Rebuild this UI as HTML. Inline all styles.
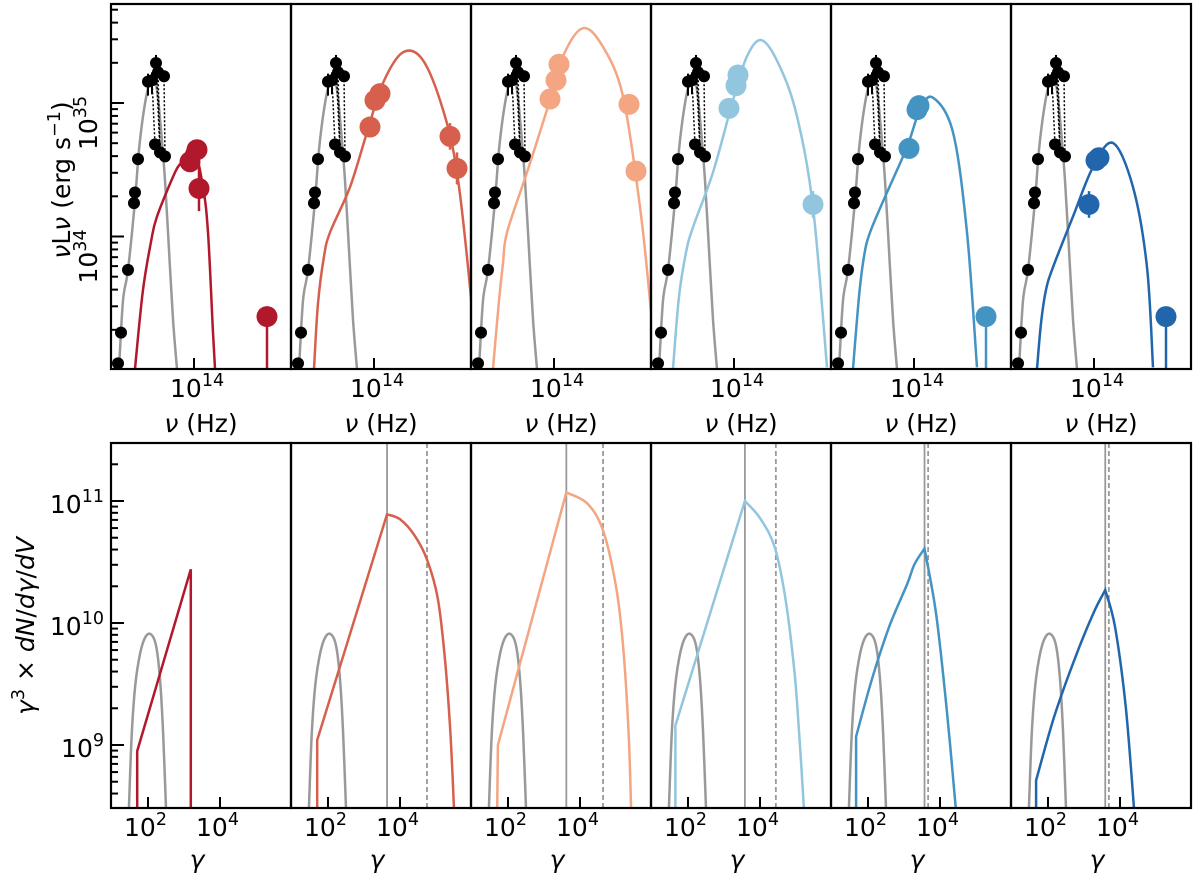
<!DOCTYPE html>
<html><head><meta charset="utf-8">
<style>
html,body{margin:0;padding:0;background:#fff;}
svg{display:block;font-family:"DejaVu Sans","Liberation Sans",sans-serif;}
</style></head>
<body>
<svg id="chart" width="1200" height="880" viewBox="0 0 1200 880" xmlns="http://www.w3.org/2000/svg">
<defs id="defs"></defs>
<g id="root"></g>
</svg>
<script>
// ---------- data ----------
const panelColors = ["#b2182b","#d6604d","#f4a582","#92c5de","#4393c3","#2166ac"];
const obsLogNu = [13.24,13.27,13.34,13.40,13.41,13.44,13.54,13.58,13.62,13.64,13.70,13.61,13.66,13.71];
const obsLogL  = [33.05,33.28,33.75,34.25,34.33,34.58,35.16,35.17,35.30,35.23,35.20,34.69,34.63,34.60];
const obsDotPairs = [[7,11],[9,12],[10,13],[8,12]];
const greySedNu = [13.25,13.29,13.34,13.41,13.45,13.50,13.55,13.59,13.63,13.67,13.71,13.75,13.79,13.83];
const greySedL  = [33.01,33.52,33.75,34.27,34.65,34.95,35.14,35.17,35.10,34.80,34.42,33.90,33.38,33.01];
const sedNu = [
 [13.41,13.49,13.57,13.63,13.81,13.89,13.99,14.09,14.14,14.19,14.21],
 [13.40,13.44,13.50,13.56,13.76,13.93,14.09,14.29,14.49,14.69,14.83,14.96,15.02],
 [13.39,13.45,13.49,13.53,13.73,13.93,14.09,14.29,14.49,14.69,14.86,14.96,15.02],
 [13.39,13.45,13.52,13.59,13.79,13.99,14.13,14.28,14.46,14.63,14.79,14.93],
 [13.39,13.45,13.50,13.56,13.73,13.93,14.06,14.19,14.39,14.53,14.63],
 [13.43,13.47,13.52,13.59,13.79,13.99,14.19,14.39,14.53,14.59]
];
const sedL = [
 [33.01,33.60,33.96,34.15,34.48,34.57,34.69,34.37,34.03,33.28,33.01],
 [33.01,33.50,33.85,34.03,34.37,34.78,35.15,35.38,35.32,34.95,34.48,33.62,33.0],
 [33.01,33.52,33.80,34.03,34.48,34.95,35.35,35.56,35.42,35.05,34.22,33.52,33.0],
 [33.01,33.55,33.88,34.07,34.48,35.02,35.35,35.47,35.27,34.90,34.22,33.02],
 [33.01,33.55,33.85,34.03,34.33,34.67,34.95,35.04,34.78,34.03,33.02],
 [33.01,33.35,33.60,33.77,34.15,34.52,34.70,34.37,33.77,33.02]
];
const ptNu = [
 [13.96,14.03,14.05],[13.96,14.01,14.06,14.76,14.83],[13.96,14.02,14.05,14.75,14.82],
 [13.95,14.02,14.04,14.79],[13.95,14.03,14.05],[13.95,14.02,14.05]
];
const ptL = [
 [34.56,34.65,34.36],[34.82,35.02,35.07,34.75,34.51],[35.03,35.17,35.29,34.99,34.49],
 [34.96,35.13,35.21,34.24],[34.66,34.95,34.98],[34.24,34.57,34.59]
];
const ptErr = [
 [0,0,0.17],[0,0,0,0.1,0.12],[0,0,0,0,0.06],[0,0,0,0.1],[0,0,0],[0.1,0,0]
];
const limNu = [14.73,null,null,null,14.72,14.72];
const limL  = [33.40,null,null,null,33.40,33.40];
const greyElG = [1.47,1.55,1.65,1.78,1.92,2.07,2.22,2.33,2.42,2.50];
const greyElV = [8.48,9.10,9.50,9.75,9.88,9.91,9.82,9.55,9.10,8.48];
const elG = [
 [1.70,1.70,3.19,3.19],
 [1.70,1.70,3.64,4.00,4.40,4.75,5.05,5.25,5.40,5.50],
 [1.70,1.72,3.62,4.20,4.64,5.00,5.20,5.35,5.42],
 [1.65,1.65,3.58,4.00,4.41,4.71,4.96,5.10,5.22],
 [1.67,1.67,2.10,2.59,3.09,3.29,3.57,3.89,4.18,4.44],
 [1.67,1.67,2.17,2.76,3.26,3.59,3.86,4.16,4.39]
];
const elV = [
 [8.48,8.95,10.44,8.48],
 [8.48,9.04,10.89,10.85,10.72,10.52,10.20,9.70,9.10,8.48],
 [8.48,9.00,11.07,10.98,10.76,10.30,9.80,9.10,8.48],
 [8.48,9.16,11.00,10.86,10.62,10.19,9.59,9.04,8.48],
 [8.48,9.07,9.53,9.97,10.32,10.48,10.61,10.08,9.31,8.48],
 [8.48,8.71,9.23,9.72,10.08,10.27,9.97,9.31,8.48]
];
const elCorners = [[0,1,2,3],[0,1,2],[0,1,2],[0,1,2],[0,1,6],[0,1,5]];
const gammaPeak = [null,3.64,3.62,3.58,3.57,3.59];
const gammaDash = [null,4.75,4.64,4.44,3.67,3.69];
const topYTicks = [34,35];
const botYTicks = [9,10,11];
const botXTicks = [2,4];

// ---------- geometry ----------
const NS="http://www.w3.org/2000/svg";
const root=document.getElementById('root');
const defs=document.getElementById('defs');
const PL=111, PW=180, TT=4, TB=369, BT=443, BB=808;
function xTop(k,v){return PL+PW*k+(v-13.17)*100;}
function yTop(v){return 103+(35-v)*133.5;}
function xBot(k,v){return PL+PW*k+(v-0.972)*36;}
function yBot(v){return 501+(11-v)*122;}
function mk(tag,attrs,parent){const e=document.createElementNS(NS,tag);for(const a in attrs)e.setAttribute(a,attrs[a]);(parent||root).appendChild(e);return e;}
function smoothSeg(P){
  let d='';
  for(let i=0;i<P.length-1;i++){
    const p0=P[i-1]||P[i], p1=P[i], p2=P[i+1], p3=P[i+2]||P[i+1];
    const c1=[p1[0]+(p2[0]-p0[0])/6,p1[1]+(p2[1]-p0[1])/6];
    const c2=[p2[0]-(p3[0]-p1[0])/6,p2[1]-(p3[1]-p1[1])/6];
    d+=' C'+c1[0].toFixed(1)+','+c1[1].toFixed(1)+' '+c2[0].toFixed(1)+','+c2[1].toFixed(1)+' '+p2[0].toFixed(1)+','+p2[1].toFixed(1);
  }
  return d;
}
function smoothD(xs,ys,fx,fy,corners){
  const P=xs.map((v,i)=>[fx(v),fy(ys[i])]);
  const cs=new Set(corners||[]); cs.add(0); cs.add(P.length-1);
  const idx=[...cs].sort((a,b)=>a-b);
  let d='M'+P[0][0].toFixed(1)+','+P[0][1].toFixed(1);
  for(let j=0;j<idx.length-1;j++){d+=smoothSeg(P.slice(idx[j],idx[j+1]+1));}
  return d;
}

for(let k=0;k<6;k++){
  const col=panelColors[k];
  const left=PL+PW*k;
  const ct=mk('clipPath',{id:'ct'+k},defs); mk('rect',{x:left,y:TT,width:PW,height:TB-TT},ct);
  const cb=mk('clipPath',{id:'cb'+k},defs); mk('rect',{x:left,y:BT,width:PW,height:BB-BT},cb);

  const gt=mk('g',{'clip-path':'url(#ct'+k+')'});
  
  
  const fx=v=>xTop(k,v);
  const gl=mk('path',{d:smoothD(greySedNu,greySedL,fx,yTop),fill:'none',stroke:'#999',"stroke-width":2.5},gt);
  
  
  obsDotPairs.forEach(p=>{
    const dl=mk('line',{x1:fx(obsLogNu[p[0]]),y1:yTop(obsLogL[p[0]]),x2:fx(obsLogNu[p[1]]),y2:yTop(obsLogL[p[1]]),stroke:'#000',"stroke-width":1.5,"stroke-dasharray":'2,2'},gt);
    
    
  });
  obsLogNu.forEach((v,i)=>{
    const c=mk('circle',{cx:fx(v),cy:yTop(obsLogL[i]),r:6,fill:'#000'},gt);
    
    
    if(i>=6&&i<=8){mk('line',{x1:fx(v),y1:yTop(obsLogL[i])-8,x2:fx(v),y2:yTop(obsLogL[i])+14,stroke:'#000',"stroke-width":2},gt);}
  });
  const mp=mk('path',{d:smoothD(sedNu[k],sedL[k],fx,yTop),fill:'none',stroke:col,"stroke-width":2.5},gt);
  
  
  ptNu[k].forEach((v,i)=>{
    if(ptErr[k][i]>0){mk('line',{x1:fx(v),y1:yTop(ptL[k][i]+ptErr[k][i]),x2:fx(v),y2:yTop(ptL[k][i]-ptErr[k][i]),stroke:col,"stroke-width":2.5},gt);}
    const c=mk('circle',{cx:fx(v),cy:yTop(ptL[k][i]),r:10.5,fill:col},gt);
    
    
  });
  if(limNu[k]!==null){
    mk('line',{x1:fx(limNu[k]),y1:yTop(limL[k]),x2:fx(limNu[k]),y2:TB,stroke:col,"stroke-width":2.5},gt);
    const c=mk('circle',{cx:fx(limNu[k]),cy:yTop(limL[k]),r:10.5,fill:col},gt);
    
    
  }
  const ft=mk('rect',{x:left,y:TT,width:PW,height:TB-TT,fill:'none',stroke:'#000',"stroke-width":2.2});
  
  
  mk('line',{x1:fx(14),y1:TB,x2:fx(14),y2:TB-11,stroke:'#000',"stroke-width":2});
  const xl=mk('text',{x:fx(14)-24,y:397,"font-size":25});
  xl.innerHTML='10<tspan dy="-11" font-size="17.5">14</tspan>';
  
  
  const xt=mk('text',{x:left+PW/2,y:432,"font-size":25,"text-anchor":'middle'});
  xt.innerHTML='<tspan font-style="italic">ν</tspan> (Hz)';
  
  

  const gb=mk('g',{'clip-path':'url(#cb'+k+')'});
  
  
  const bx=v=>xBot(k,v);
  if(gammaPeak[k]!==null){
    const l1=mk('line',{x1:bx(gammaPeak[k]),y1:BT,x2:bx(gammaPeak[k]),y2:BB,stroke:'#999',"stroke-width":1.8},gb);
    
    
    const l2=mk('line',{x1:bx(gammaDash[k]),y1:BT,x2:bx(gammaDash[k]),y2:BB,stroke:'#999',"stroke-width":1.8,"stroke-dasharray":'5,3'},gb);
    
    
  }
  const ge=mk('path',{d:smoothD(greyElG,greyElV,bx,yBot),fill:'none',stroke:'#999',"stroke-width":2.5},gb);
  
  
  const ep=mk('path',{d:smoothD(elG[k],elV[k],bx,yBot,elCorners[k]),fill:'none',stroke:col,"stroke-width":2.5},gb);
  
  
  const fb=mk('rect',{x:left,y:BT,width:PW,height:BB-BT,fill:'none',stroke:'#000',"stroke-width":2.2});
  
  
  botXTicks.forEach(t=>{
    mk('line',{x1:bx(t),y1:BB,x2:bx(t),y2:BB-11,stroke:'#000',"stroke-width":2});
    const tl=mk('text',{x:bx(t)-24,y:836,"font-size":25});
    tl.innerHTML='10<tspan dy="-11" font-size="17.5">'+t+'</tspan>';
    
    
  });
  const gtl=mk('text',{x:left+PW/2-4,y:868,"font-size":25,"text-anchor":'middle',"font-style":'italic'});
  gtl.textContent='γ';
  
  
}

for(let d=33;d<=35;d++){
  for(let m=1;m<=9;m++){
    const v=d+Math.log10(m); const y=yTop(v);
    if(y<TT||y>TB)continue;
    mk('line',{x1:PL,y1:y,x2:PL+(m===1?13:7),y2:y,stroke:'#000',"stroke-width":2});
  }
}
topYTicks.forEach(t=>{
  const tx=mk('text',{transform:'translate(97,'+(yTop(t)+47)+') rotate(-90)',"font-size":25});
  tx.innerHTML='10<tspan dy="-11" font-size="17.5">'+t+'</tspan>';
  
  
});
const yt1=mk('text',{transform:'translate(70,180) rotate(-90)',"font-size":25,"text-anchor":'middle'});
yt1.innerHTML='<tspan font-style="italic">ν</tspan>L<tspan font-style="italic">ν</tspan> (erg s<tspan dy="-10" font-size="17.5">−1</tspan><tspan dy="10">)</tspan>';



for(let d=8;d<=11;d++){
  for(let m=1;m<=9;m++){
    const v=d+Math.log10(m); const y=yBot(v);
    if(y<BT||y>BB)continue;
    mk('line',{x1:PL,y1:y,x2:PL+(m===1?13:7),y2:y,stroke:'#000',"stroke-width":2});
  }
}
botYTicks.forEach(t=>{
  const tx=mk('text',{x:104,y:yBot(t)+12,"font-size":25,"text-anchor":'end'});
  tx.innerHTML='10<tspan dy="-11" font-size="17.5">'+t+'</tspan>';
  
  
});
const yt2=mk('text',{transform:'translate(34,626) rotate(-90)',"font-size":25,"text-anchor":'middle'});
yt2.innerHTML='<tspan font-style="italic">γ</tspan><tspan dy="-10" font-size="17.5">3</tspan><tspan dy="10"> × </tspan><tspan font-style="italic">dN</tspan>/<tspan font-style="italic">dγ</tspan>/<tspan font-style="italic">dV</tspan>';


</script>
</body></html>
